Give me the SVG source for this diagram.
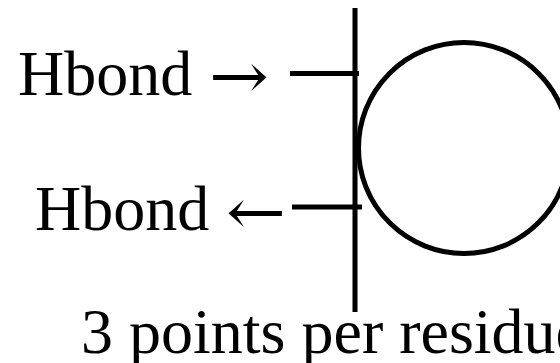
<svg xmlns="http://www.w3.org/2000/svg" width="560" height="363" viewBox="0 0 560 363">
<style>
.t{font-family:"Liberation Serif","Times New Roman",serif;fill:#000;font-size:64px}
.a{font-family:"DejaVu Serif",serif;fill:#000;font-size:64px}
.s{stroke:#000;stroke-width:5;fill:none}
</style>
<rect width="560" height="363" fill="#fff"/>
<g id="residue">
<circle class="s" cx="464" cy="148" r="105.5"/>
</g>
<g id="connectors">
<line class="s" x1="355" y1="8" x2="355" y2="312"/>
<line class="s" x1="290" y1="73.5" x2="359" y2="73.5"/>
<line class="s" x1="292" y1="207" x2="362" y2="207"/>
</g>
<g id="label-out">
<text class="t" x="18" y="95">Hbond</text>
<text class="a" x="209" y="98" textLength="60" lengthAdjust="spacingAndGlyphs">→</text>
</g>
<g id="label-in">
<text class="t" x="35" y="230">Hbond</text>
<text class="a" x="226" y="234" textLength="60" lengthAdjust="spacingAndGlyphs">←</text>
</g>
<g id="caption">
<text class="t" x="81" y="353">3 points per residue</text>
</g>
</svg>
